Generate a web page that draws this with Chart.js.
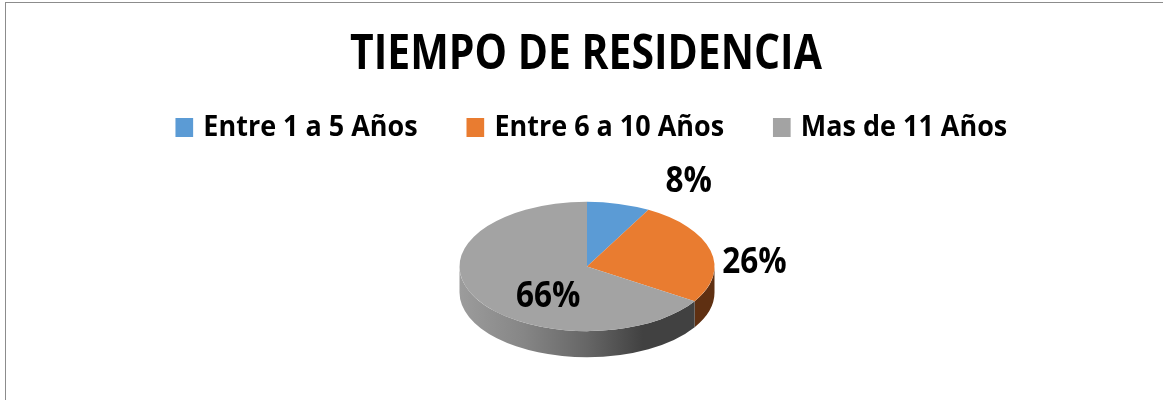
<!DOCTYPE html>
<html><head><meta charset="utf-8">
<script src="https://cdn.jsdelivr.net/npm/chart.js@4"></script>
<style>
html,body{margin:0;padding:0;background:#fff;overflow:hidden}
#frame{position:absolute;left:5px;top:2px;right:0;bottom:0;border-left:1.5px solid #8c8c8c;border-top:1.5px solid #8c8c8c}
#wrap{position:absolute;left:0;top:0;width:1163px;height:400px}
</style></head><body>
<div id="frame"></div>
<div id="wrap"><canvas id="c" width="1163" height="400"></canvas></div>
<script>
const chartTitle = 'TIEMPO DE RESIDENCIA';
const categories = ['Entre 1 a 5 Años', 'Entre 6 a 10 Años', 'Mas de 11 Años'];
const shares = [8, 26, 66];
const sliceColors = ['#5B9BD5', '#E97C30', '#A3A3A3'];
const wallColors = ['#34587a', '#5f3012', null];
const labelNudges = [[70, -22], [44, 13], [73, -1]];
const squash = 0.507, depth = 26;
const fontName = '"Open Sans",sans-serif';

function narrow(ctx, fromX, toX, sx, dy, draw) {
  ctx.save();
  ctx.translate(toX, dy);
  ctx.scale(sx, 1);
  ctx.translate(-fromX, 0);
  draw();
  ctx.restore();
}

const pie3d = {
  id: 'pie3d',
  beforeLayout(chart) {
    const lg = chart.legend, tb = chart.titleBlock;
    if (lg && !lg._patched) {
      lg._patched = true;
      const f = lg.fit.bind(lg);
      lg.fit = function () { f(); this.height = 59; };
      const d = lg.draw.bind(lg);
      lg.draw = function () {
        const b = lg.bottom;
        lg.bottom = b + 80;
        narrow(chart.ctx, 587, 593, 0.93, -23, d);
        lg.bottom = b;
      };
    }
    if (tb && !tb._patched) {
      tb._patched = true;
      const d = tb.draw.bind(tb);
      tb.draw = function () { narrow(chart.ctx, 587, 586, 0.835, 0, d); };
    }
  },
  beforeDatasetsDraw(chart) {
    const ctx = chart.ctx, arcs = chart.getDatasetMeta(0).data;
    const cx = arcs[0].x, cy = arcs[0].y, r = arcs[0].outerRadius, ry = r * squash;
    const grad = ctx.createLinearGradient(cx - r, 0, cx + r, 0);
    grad.addColorStop(0, '#9c9c9c');
    grad.addColorStop(0.25, '#868686');
    grad.addColorStop(0.5, '#666666');
    grad.addColorStop(0.72, '#414141');
    grad.addColorStop(1, '#414141');
    arcs.forEach((a, i) => {
      const s = Math.max(a.startAngle, 0), e = Math.min(a.endAngle, Math.PI);
      if (a.startAngle < Math.PI && a.endAngle > 0 && e > s) {
        ctx.beginPath();
        ctx.ellipse(cx, cy, r, ry, 0, s, e);
        ctx.ellipse(cx, cy + depth, r, ry, 0, e, s, true);
        ctx.closePath();
        ctx.fillStyle = wallColors[i] || grad;
        ctx.fill();
      }
    });
    ctx.save();
    ctx.translate(cx, cy);
    ctx.scale(1, squash);
    ctx.translate(-cx, -cy);
  },
  afterDatasetsDraw(chart) {
    const ctx = chart.ctx;
    ctx.restore();
    const arcs = chart.getDatasetMeta(0).data;
    const total = shares.reduce((x, y) => x + y, 0);
    ctx.font = '700 35px ' + fontName;
    ctx.fillStyle = '#000';
    ctx.textAlign = 'center';
    ctx.textBaseline = 'middle';
    arcs.forEach((a, i) => {
      const mid = (a.startAngle + a.endAngle) / 2;
      const x = a.x + Math.cos(mid) * a.outerRadius + labelNudges[i][0];
      const y = a.y + Math.sin(mid) * a.outerRadius * squash + labelNudges[i][1];
      ctx.save();
      ctx.translate(x, y);
      ctx.scale(0.9, 1);
      ctx.fillText(Math.round(shares[i] / total * 100) + '%', 0, 0);
      ctx.restore();
    });
  }
};

new Chart(document.getElementById('c'), {
  type: 'pie',
  data: { labels: categories, datasets: [{ data: shares, backgroundColor: sliceColors, borderWidth: 0 }] },
  plugins: [pie3d],
  options: {
    responsive: false,
    animation: false,
    layout: { padding: { left: 11, right: 0, top: 0, bottom: 6 } },
    plugins: {
      tooltip: { enabled: false },
      title: {
        display: true, text: chartTitle, color: '#000',
        font: { family: fontName, size: 49, weight: '700', lineHeight: 1 },
        padding: { top: 31, bottom: 0 }
      },
      legend: {
        position: 'top',
        labels: {
          color: '#000', usePointStyle: true, pointStyle: 'rect', boxWidth: 12, boxHeight: 19, padding: 56,
          font: { family: fontName, size: 29, weight: '700' }
        }
      }
    }
  }
});
</script>
</body></html>
